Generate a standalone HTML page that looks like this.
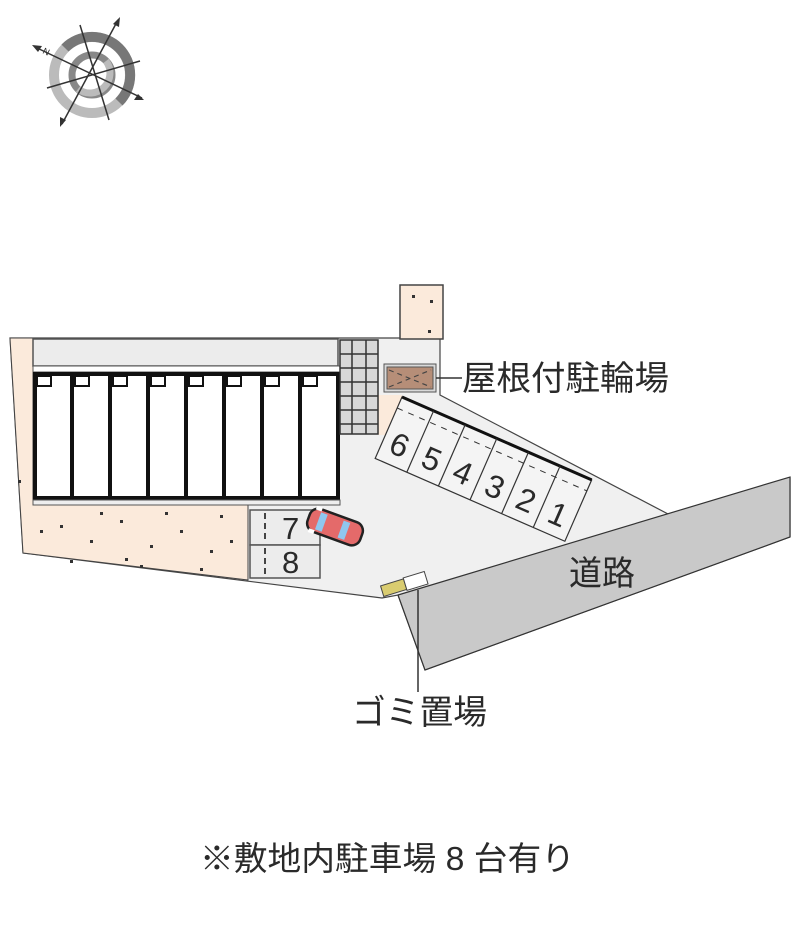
<!DOCTYPE html>
<html><head><meta charset="utf-8"><style>
html,body{margin:0;padding:0;background:#fff;width:800px;height:940px;overflow:hidden}
svg{display:block}
text{font-family:"Liberation Sans","Noto Sans CJK JP",sans-serif;fill:#2a2a2a}
</style></head><body>
<svg width="800" height="940" viewBox="0 0 800 940" xmlns="http://www.w3.org/2000/svg">
<!-- compass -->
<g transform="translate(92,75)">
<circle r="38" fill="none" stroke="#bbb" stroke-width="10"/>
<path d="M -27 -27 A 38 38 0 0 1 27 27" fill="none" stroke="#777" stroke-width="10"/>
<circle r="20" fill="none" stroke="#888" stroke-width="7"/>
<path d="M 14 -14 A 20 20 0 0 1 -14 14" fill="none" stroke="#bbb" stroke-width="7"/>
<g stroke="#333" stroke-width="1.5">
<line x1="-57" y1="-28" x2="50" y2="23"/>
<line x1="-30" y1="49" x2="26" y2="-55"/>
<line x1="-12" y1="-50" x2="17" y2="45"/>
<line x1="-45" y1="13" x2="48" y2="-14"/>
</g>
<path d="M-60 -30 l10 1 l-4 6z" fill="#333"/>
<path d="M52 25 l-10 0 l4 -6z" fill="#333"/>
<path d="M28 -58 l-1 10 l-6 -3z" fill="#333"/>
<path d="M-32 52 l0 -10 l6 3z" fill="#333"/>
<text x="-50" y="-22" font-size="9" transform="rotate(25 -50 -22)">N</text>
</g>

<!-- site ground -->
<polygon points="10,338 440,338 440,395 670,515 790,478 790,537 425,670 398,595 382,598 23,553" fill="#f0f0f0" stroke="#444" stroke-width="1.2"/>
<!-- road -->
<polygon points="398,595 790,477 790,537 425,670" fill="#c9c9c9" stroke="#333" stroke-width="1.2"/>
<!-- beige areas -->
<rect x="400" y="285" width="43" height="54" fill="#fbeadb" stroke="#444" stroke-width="1.5"/>
<polygon points="10,338 33,338 33,505 248,505 248,580 23,553" fill="#fbeadb" stroke="#444" stroke-width="1"/>
<rect x="378" y="395" width="24" height="40" fill="#fbeadb"/>
<g fill="#333">
<rect x="60" y="525" width="3" height="3"/><rect x="90" y="540" width="3" height="3"/><rect x="120" y="520" width="3" height="3"/><rect x="150" y="545" width="3" height="3"/><rect x="180" y="530" width="3" height="3"/><rect x="210" y="550" width="3" height="3"/><rect x="70" y="560" width="3" height="3"/><rect x="140" y="565" width="3" height="3"/><rect x="200" y="568" width="3" height="3"/><rect x="230" y="540" width="3" height="3"/><rect x="100" y="512" width="3" height="3"/><rect x="165" y="512" width="3" height="3"/><rect x="40" y="530" width="3" height="3"/><rect x="125" y="558" width="3" height="3"/><rect x="220" y="515" width="3" height="3"/>
<rect x="412" y="295" width="3" height="3"/><rect x="430" y="300" width="3" height="3"/><rect x="428" y="330" width="3" height="3"/><rect x="18" y="480" width="3" height="3"/>
</g>
<!-- building -->
<rect x="33" y="339" width="305" height="27" fill="#ececec" stroke="#555" stroke-width="1.5"/>
<rect x="33" y="366" width="307" height="6" fill="#fff" stroke="#555" stroke-width="1"/>
<rect x="35" y="374" width="303" height="124" fill="#fff" stroke="#111" stroke-width="4"/>
<g stroke="#111" stroke-width="4">
<line x1="72" y1="374" x2="72" y2="498"/><line x1="110" y1="374" x2="110" y2="498"/><line x1="148" y1="374" x2="148" y2="498"/><line x1="186" y1="374" x2="186" y2="498"/><line x1="224" y1="374" x2="224" y2="498"/><line x1="262" y1="374" x2="262" y2="498"/><line x1="300" y1="374" x2="300" y2="498"/>
</g>
<g fill="#fff" stroke="#111" stroke-width="2">
<rect x="37" y="376" width="14" height="10"/><rect x="75" y="376" width="14" height="10"/><rect x="113" y="376" width="14" height="10"/><rect x="151" y="376" width="14" height="10"/><rect x="189" y="376" width="14" height="10"/><rect x="227" y="376" width="14" height="10"/><rect x="265" y="376" width="14" height="10"/><rect x="303" y="376" width="14" height="10"/>
</g>
<rect x="33" y="500" width="307" height="5" fill="#eee" stroke="#555" stroke-width="1"/>
<!-- checker grid -->
<g>
<rect x="340" y="340" width="38" height="94" fill="#d8d8d8" stroke="#333" stroke-width="1.5"/>
<g stroke="#333" stroke-width="1.5">
<line x1="352" y1="340" x2="352" y2="434"/><line x1="366" y1="340" x2="366" y2="434"/>
<line x1="340" y1="354" x2="378" y2="354"/><line x1="340" y1="368" x2="378" y2="368"/><line x1="340" y1="382" x2="378" y2="382"/><line x1="340" y1="396" x2="378" y2="396"/><line x1="340" y1="410" x2="378" y2="410"/><line x1="340" y1="424" x2="378" y2="424"/>
</g>
</g>
<!-- bike shelter -->
<rect x="384" y="364" width="52" height="28" fill="#d9d9d9" stroke="#555"/>
<rect x="387" y="367" width="46" height="22" fill="#b68e78" stroke="#555"/>
<path d="M389 370 L431 387 M389 387 L431 370" stroke="#444" stroke-dasharray="5 4" stroke-width="1.2"/>
<line x1="436" y1="378" x2="462" y2="378" stroke="#333" stroke-width="1.5"/>
<text x="462" y="390" font-size="34" textLength="207" lengthAdjust="spacingAndGlyphs">屋根付駐輪場</text>
<!-- parking 1-6 -->
<g transform="translate(402,397) rotate(23.6)">
<rect x="0" y="0" width="207" height="67" fill="#f4f4f4" stroke="#333" stroke-width="1.2"/>
<line x1="0" y1="0" x2="207" y2="0" stroke="#111" stroke-width="3"/>
<g stroke="#333" stroke-width="1.2">
<line x1="34.5" y1="0" x2="34.5" y2="67"/><line x1="69" y1="0" x2="69" y2="67"/><line x1="103.5" y1="0" x2="103.5" y2="67"/><line x1="138" y1="0" x2="138" y2="67"/><line x1="172.5" y1="0" x2="172.5" y2="67"/>
</g>
<line x1="0" y1="12" x2="207" y2="12" stroke="#333" stroke-dasharray="6 6"/>
<g font-size="32" text-anchor="middle">
<text x="17" y="56">6</text><text x="52" y="56">5</text><text x="86" y="56">4</text><text x="121" y="56">3</text><text x="155" y="56">2</text><text x="190" y="56">1</text>
</g>
</g>
<!-- parking 7,8 -->
<rect x="250" y="510" width="70" height="35" fill="#ececec" stroke="#555" stroke-width="1.5"/>
<rect x="250" y="545" width="70" height="33" fill="#ececec" stroke="#555" stroke-width="1.5"/>
<path d="M265 513 V542 M265 548 V575" stroke="#444" stroke-width="2" stroke-dasharray="6 4"/>
<text x="282" y="539" font-size="31">7</text>
<text x="282" y="573" font-size="31">8</text>
<!-- car -->
<g transform="translate(335,527) rotate(20)">
<rect x="-28" y="-12" width="56" height="24" rx="9" fill="#e46a6a" stroke="#222" stroke-width="2.5"/>
<rect x="-18" y="-9" width="7" height="18" fill="#8fc7ef"/>
<rect x="6" y="-9" width="7" height="18" fill="#8fc7ef"/>
<rect x="-24" y="-14" width="6" height="4" fill="#fff"/><rect x="-24" y="10" width="6" height="4" fill="#fff"/>
</g>
<!-- trash -->
<g transform="rotate(-17 404 584)">
<rect x="381" y="579" width="24" height="11" fill="#d9cc70" stroke="#444"/>
<rect x="405" y="578" width="22" height="13" fill="#fff" stroke="#444"/>
</g>
<line x1="418" y1="590" x2="418" y2="692" stroke="#333" stroke-width="1.5"/>
<text x="352" y="724" font-size="34" textLength="135" lengthAdjust="spacingAndGlyphs">ゴミ置場</text>
<text x="569" y="585" font-size="34" textLength="66" lengthAdjust="spacingAndGlyphs">道路</text>
<text x="200" y="870" font-size="33" textLength="375" lengthAdjust="spacingAndGlyphs">※敷地内駐車場 8 台有り</text>
</svg>
</body></html>
